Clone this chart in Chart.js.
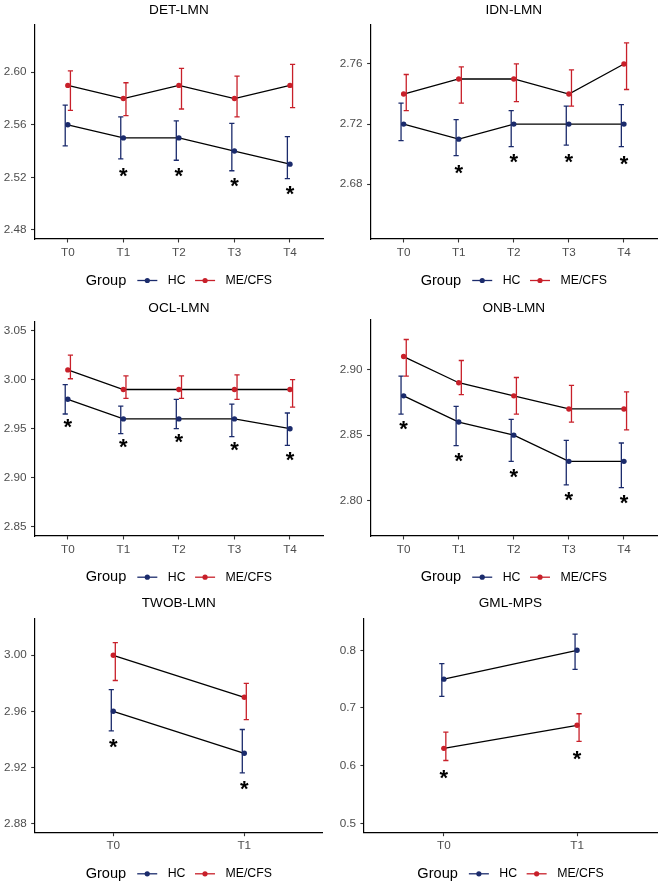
<!DOCTYPE html>
<html><head><meta charset="utf-8">
<script src="https://cdn.jsdelivr.net/npm/chart.js@4.4.1/dist/chart.umd.min.js"></script>
<style>
html,body{margin:0;padding:0;background:#fff;}
#wrap{position:relative;width:661px;height:886px;background:#fff;overflow:hidden;}
#wrap canvas{position:absolute;}
</style></head><body><div id="wrap"></div>
<script>
// ---------- data ----------
const timepoints5 = ['T0','T1','T2','T3','T4'];
const timepoints2 = ['T0','T1'];
const groupNames = ['HC','ME/CFS'];
const legendTitle = 'Group';
const starLabel = '*';

// DET-LMN
const detHC      = [2.56, 2.55, 2.55, 2.54, 2.53];
const detHCUpper = [2.575, 2.566, 2.563, 2.561, 2.551];
const detHCLower = [2.544, 2.534, 2.533, 2.525, 2.519];
const detME      = [2.59, 2.58, 2.59, 2.58, 2.59];
const detMEUpper = [2.601, 2.592, 2.603, 2.597, 2.606];
const detMELower = [2.571, 2.567, 2.572, 2.566, 2.573];
const detStars   = [null, 2.524, 2.524, 2.516, 2.510];
const detTicks   = [2.48, 2.52, 2.56, 2.60];
const detRange   = [2.473, 2.636];

// IDN-LMN
const idnHC      = [2.72, 2.71, 2.72, 2.72, 2.72];
const idnHCUpper = [2.734, 2.723, 2.729, 2.732, 2.733];
const idnHCLower = [2.709, 2.699, 2.705, 2.706, 2.705];
const idnME      = [2.74, 2.75, 2.75, 2.74, 2.76];
const idnMEUpper = [2.753, 2.758, 2.760, 2.756, 2.774];
const idnMELower = [2.729, 2.734, 2.735, 2.732, 2.743];
const idnStars   = [null, 2.690, 2.697, 2.697, 2.696];
const idnTicks   = [2.68, 2.72, 2.76];
const idnRange   = [2.6436, 2.7859];

// OCL-LMN
const oclHC      = [2.98, 2.96, 2.96, 2.96, 2.95];
const oclHCUpper = [2.995, 2.973, 2.980, 2.975, 2.966];
const oclHCLower = [2.965, 2.945, 2.950, 2.942, 2.933];
const oclME      = [3.01, 2.99, 2.99, 2.99, 2.99];
const oclMEUpper = [3.025, 3.004, 3.004, 3.005, 3.000];
const oclMELower = [3.001, 2.981, 2.981, 2.980, 2.972];
const oclStars   = [2.955, 2.935, 2.9395, 2.932, 2.922];
const oclTicks   = [2.85, 2.90, 2.95, 3.00, 3.05];
const oclRange   = [2.8405, 3.0592];

// ONB-LMN
const onbHC      = [2.88, 2.86, 2.85, 2.83, 2.83];
const onbHCUpper = [2.895, 2.872, 2.862, 2.846, 2.844];
const onbHCLower = [2.866, 2.842, 2.830, 2.812, 2.810];
const onbME      = [2.91, 2.89, 2.88, 2.87, 2.87];
const onbMEUpper = [2.923, 2.907, 2.894, 2.888, 2.883];
const onbMELower = [2.895, 2.881, 2.866, 2.860, 2.854];
const onbStars   = [2.857, 2.833, 2.821, 2.803, 2.801];
const onbTicks   = [2.80, 2.85, 2.90];
const onbRange   = [2.773, 2.9379];

// TWOB-LMN
const twobHC      = [2.96, 2.93];
const twobHCUpper = [2.9755, 2.947];
const twobHCLower = [2.946, 2.916];
const twobME      = [3.00, 2.97];
const twobMEUpper = [3.009, 2.980];
const twobMELower = [2.982, 2.954];
const twobStars   = [2.937, 2.907];
const twobTicks   = [2.88, 2.92, 2.96, 3.00];
const twobRange   = [2.8733, 3.0264];

// GML-MPS
const gmlHC      = [0.75, 0.80];
const gmlHCUpper = [0.777, 0.828];
const gmlHCLower = [0.720, 0.767];
const gmlME      = [0.63, 0.67];
const gmlMEUpper = [0.658, 0.690];
const gmlMELower = [0.609, 0.642];
const gmlStars   = [0.5855, 0.6185];
const gmlTicks   = [0.5, 0.6, 0.7, 0.8];
const gmlRange   = [0.4838, 0.8555];

// ---------- styling / layout ----------
const HC_COLOR = '#1b2b6c';
const ME_COLOR = '#c8202a';
const FONT = '"Liberation Sans", Arial, Helvetica, sans-serif';

const panels = [
  {title:'DET-LMN', cats:timepoints5, hc:detHC, hcU:detHCUpper, hcL:detHCLower, me:detME, meU:detMEUpper, meL:detMELower, stars:detStars, ticks:detTicks, range:detRange, dec:2,
   canvas:{x:0,y:0,w:330,h:295}, area:{l:34.5,r:323.3,t:25,b:239}, titleY:10, legendY:280, dodge:2.6},
  {title:'IDN-LMN', cats:timepoints5, hc:idnHC, hcU:idnHCUpper, hcL:idnHCLower, me:idnME, meU:idnMEUpper, meL:idnMELower, stars:idnStars, ticks:idnTicks, range:idnRange, dec:2,
   canvas:{x:330,y:0,w:331,h:295}, area:{l:40.6,r:329.5,t:25,b:239}, titleY:10, legendY:280, dodge:2.6},
  {title:'OCL-LMN', cats:timepoints5, hc:oclHC, hcU:oclHCUpper, hcL:oclHCLower, me:oclME, meU:oclMEUpper, meL:oclMELower, stars:oclStars, ticks:oclTicks, range:oclRange, dec:2,
   canvas:{x:0,y:295,w:330,h:295}, area:{l:34.5,r:323.3,t:26.7,b:241}, titleY:12.7, legendY:281.7, dodge:2.6},
  {title:'ONB-LMN', cats:timepoints5, hc:onbHC, hcU:onbHCUpper, hcL:onbHCLower, me:onbME, meU:onbMEUpper, meL:onbMELower, stars:onbStars, ticks:onbTicks, range:onbRange, dec:2,
   canvas:{x:330,y:295,w:331,h:295}, area:{l:40.6,r:329.5,t:25,b:241}, titleY:12.7, legendY:281.7, dodge:2.6},
  {title:'TWOB-LMN', cats:timepoints2, hc:twobHC, hcU:twobHCUpper, hcL:twobHCLower, me:twobME, meU:twobMEUpper, meL:twobMELower, stars:twobStars, ticks:twobTicks, range:twobRange, dec:2,
   canvas:{x:0,y:590,w:330,h:296}, area:{l:34.7,r:322.9,t:28.3,b:242.7}, titleY:12.7, legendY:283.3, dodge:2},
  {title:'GML-MPS', cats:timepoints2, hc:gmlHC, hcU:gmlHCUpper, hcL:gmlHCLower, me:gmlME, meU:gmlMEUpper, meL:gmlMELower, stars:gmlStars, ticks:gmlTicks, range:gmlRange, dec:1,
   canvas:{x:330,y:590,w:331,h:296}, area:{l:33.9,r:328.7,t:28.3,b:242.7}, titleY:12.7, legendY:283.3, dodge:2}
];

const Y_W = 33, X_H = 20;

const extrasPlugin = {
  id: 'extras',
  afterDatasetsDraw(chart) {
    const p = chart.config.options.plugins.extras.panel;
    const ctx = chart.ctx, xs = chart.scales.x, ys = chart.scales.y;
    const groups = [
      {u:p.hcU, l:p.hcL, c:HC_COLOR, off:-p.dodge},
      {u:p.meU, l:p.meL, c:ME_COLOR, off:p.dodge}
    ];
    ctx.save();
    groups.forEach(g => {
      ctx.strokeStyle = g.c; ctx.lineWidth = 1.3;
      g.u.forEach((uv, i) => {
        const x = xs.getPixelForValue(i) + g.off;
        const yu = ys.getPixelForValue(uv), yl = ys.getPixelForValue(g.l[i]);
        ctx.beginPath();
        ctx.moveTo(x, yu); ctx.lineTo(x, yl);
        ctx.moveTo(x - 2.6, yu); ctx.lineTo(x + 2.6, yu);
        ctx.moveTo(x - 2.6, yl); ctx.lineTo(x + 2.6, yl);
        ctx.stroke();
      });
    });
    // significance stars
    ctx.fillStyle = '#000';
    ctx.font = 'bold 22px ' + FONT;
    ctx.textAlign = 'center'; ctx.textBaseline = 'alphabetic';
    const m = ctx.measureText(starLabel);
    const shift = (m.actualBoundingBoxAscent - m.actualBoundingBoxDescent) / 2;
    p.stars.forEach((sv, i) => {
      if (sv === null) return;
      const x = xs.getPixelForValue(i), y = ys.getPixelForValue(sv);
      ctx.fillText(starLabel, x, y + shift);
    });
    ctx.restore();
  },
  afterDraw(chart) {
    const p = chart.config.options.plugins.extras.panel;
    const ctx = chart.ctx, a = chart.chartArea;
    const cx = (a.left + a.right) / 2;
    ctx.save();
    // title
    ctx.fillStyle = '#000';
    ctx.font = '13.6px ' + FONT;
    ctx.textAlign = 'center'; ctx.textBaseline = 'middle';
    ctx.fillText(p.title, cx, p.titleY + 0.5);
    // legend
    const titleFont = '14.6px ' + FONT, labFont = '12.3px ' + FONT;
    ctx.font = titleFont; const wT = ctx.measureText(legendTitle).width;
    ctx.font = labFont;
    const w1 = ctx.measureText(groupNames[0]).width, w2 = ctx.measureText(groupNames[1]).width;
    const key = 20, g1 = 11, g2 = 10.5, g3 = 9.5;
    const total = wT + g1 + key + g2 + w1 + g3 + key + g2 + w2;
    let x = cx - total / 2; const y = p.legendY + 0.5;
    ctx.textAlign = 'left';
    ctx.font = titleFont; ctx.fillText(legendTitle, x, y); x += wT + g1;
    const drawKey = (x0, col) => {
      ctx.strokeStyle = col; ctx.lineWidth = 1.3;
      ctx.beginPath(); ctx.moveTo(x0, y); ctx.lineTo(x0 + key, y); ctx.stroke();
      ctx.fillStyle = col; ctx.beginPath(); ctx.arc(x0 + key / 2, y, 2.6, 0, Math.PI * 2); ctx.fill();
      ctx.fillStyle = '#000';
    };
    drawKey(x, HC_COLOR); x += key + g2;
    ctx.font = labFont; ctx.fillText(groupNames[0], x, y); x += w1 + g3;
    drawKey(x, ME_COLOR); x += key + g2;
    ctx.font = labFont; ctx.fillText(groupNames[1], x, y);
    ctx.restore();
  }
};

const wrap = document.getElementById('wrap');
panels.forEach(p => {
  const cv = document.createElement('canvas');
  cv.width = p.canvas.w; cv.height = p.canvas.h;
  cv.style.left = p.canvas.x + 'px'; cv.style.top = p.canvas.y + 'px';
  cv.style.width = p.canvas.w + 'px'; cv.style.height = p.canvas.h + 'px';
  wrap.appendChild(cv);
  const n = p.cats.length;
  const mk = (vals) => vals.map((v, i) => ({x: i, y: v}));
  new Chart(cv, {
    type: 'line',
    data: {
      datasets: [
        {label: groupNames[0], data: mk(p.hc), borderColor: '#000', borderWidth: 1.3,
         pointBackgroundColor: HC_COLOR, pointBorderColor: HC_COLOR, pointRadius: 2.7, pointBorderWidth: 0, tension: 0},
        {label: groupNames[1], data: mk(p.me), borderColor: '#000', borderWidth: 1.3,
         pointBackgroundColor: ME_COLOR, pointBorderColor: ME_COLOR, pointRadius: 2.7, pointBorderWidth: 0, tension: 0}
      ]
    },
    options: {
      responsive: false, animation: false, devicePixelRatio: 1,
      layout: {padding: {left: p.area.l - Y_W, top: p.area.t, right: p.canvas.w - p.area.r, bottom: p.canvas.h - p.area.b - X_H}},
      plugins: {legend: {display: false}, tooltip: {enabled: false}, title: {display: false}, extras: {panel: p}},
      scales: {
        x: {
          type: 'linear', min: -0.6, max: n - 1 + 0.6, offset: false,
          afterBuildTicks: s => { s.ticks = p.cats.map((c, i) => ({value: i})); },
          afterFit: s => { s.height = X_H; },
          ticks: {callback: (v) => p.cats[v], color: '#4d4d4d', font: {family: FONT, size: 11.7}, padding: 3, maxRotation: 0, autoSkip: false},
          grid: {display: true, drawOnChartArea: false, drawTicks: true, tickLength: 3.5, tickColor: '#333', tickWidth: 1.1},
          border: {display: true, color: '#000', width: 1.2}
        },
        y: {
          type: 'linear', min: p.range[0], max: p.range[1],
          afterBuildTicks: s => { s.ticks = p.ticks.map(v => ({value: v})); },
          afterFit: s => { s.width = Y_W; },
          ticks: {callback: (v) => Number(v).toFixed(p.dec), color: '#4d4d4d', font: {family: FONT, size: 11.7}, padding: 4.5},
          grid: {display: true, drawOnChartArea: false, drawTicks: true, tickLength: 3.5, tickColor: '#333', tickWidth: 1.1},
          border: {display: true, color: '#000', width: 1.2}
        }
      }
    },
    plugins: [extrasPlugin]
  });
});
</script></body></html>
